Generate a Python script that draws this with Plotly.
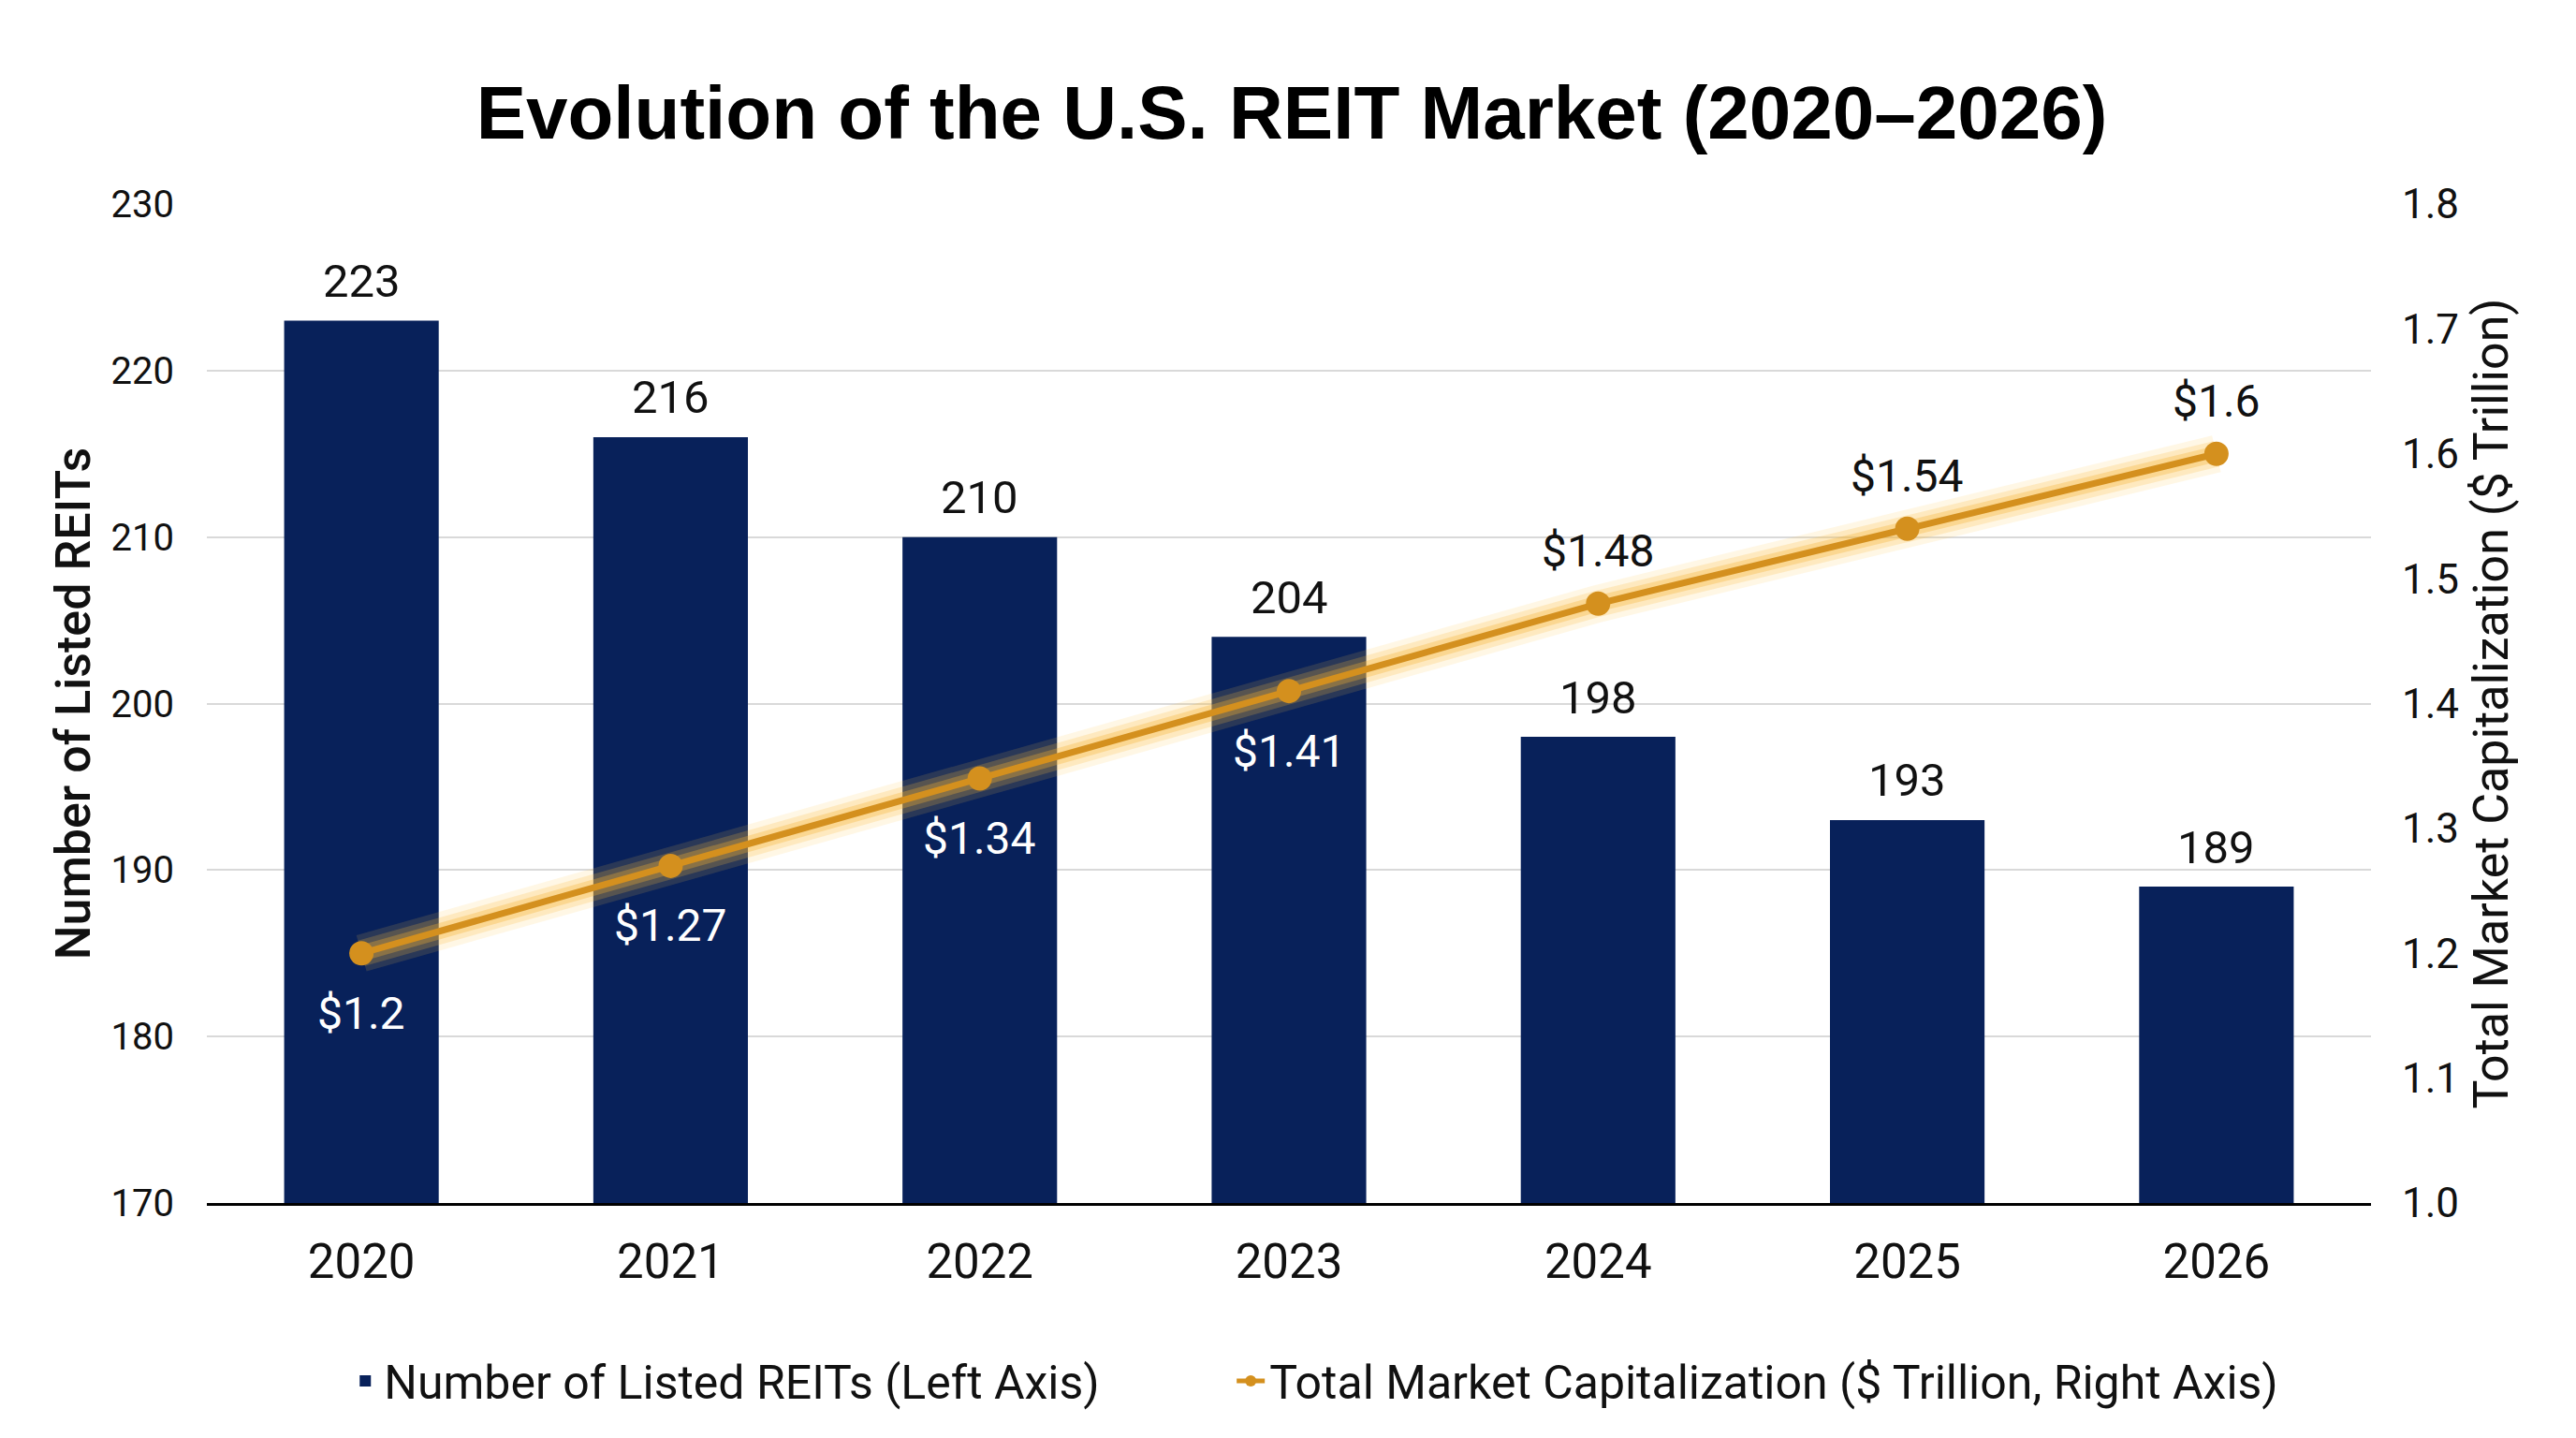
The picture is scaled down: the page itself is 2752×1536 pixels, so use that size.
import plotly.graph_objects as go

# Data
years = ["2020", "2021", "2022", "2023", "2024", "2025", "2026"]
reit_counts = [223, 216, 210, 204, 198, 193, 189]
market_cap = [1.2, 1.27, 1.34, 1.41, 1.48, 1.54, 1.6]
cap_labels = ["$1.2", "$1.27", "$1.34", "$1.41", "$1.48", "$1.54", "$1.6"]
# labels sitting on the bars go below the point in white, the rest above in black
cap_label_below = [True, True, True, True, False, False, False]

NAVY = "#08215a"
GOLD = "#d4901e"
FONT = "Roboto"

fig = go.Figure()

fig.add_trace(go.Bar(
  x=years, y=reit_counts,
  name="Number of Listed REITs (Left Axis)           ",
  marker=dict(color=NAVY, line=dict(width=0)),
  yaxis="y",
))

# soft glow under the line
for w, c in [(40, "rgba(252,195,70,0.14)"), (28, "rgba(250,188,60,0.22)"), (17, "rgba(245,178,50,0.32)")]:
  fig.add_trace(go.Scatter(
    x=years, y=market_cap, yaxis="y2", mode="lines",
    line=dict(color=c, width=w),
    showlegend=False, hoverinfo="skip",
  ))

fig.add_trace(go.Scatter(
  x=years, y=market_cap,
  name="Total Market Capitalization ($ Trillion, Right Axis)",
  mode="lines+markers", yaxis="y2",
  line=dict(color=GOLD, width=7),
  marker=dict(color=GOLD, size=26),
))

# annotations sit on the category axis, so they take the category index
annotations = []
for i, n in enumerate(reit_counts):
  annotations.append(dict(
    x=i, y=n, xref="x", yref="y", text=str(n), showarrow=False,
    yshift=42, font=dict(family=FONT, size=49, color="#111111"),
  ))
for i, (v, lab, below) in enumerate(zip(market_cap, cap_labels, cap_label_below)):
  annotations.append(dict(
    x=i, y=v, xref="x", yref="y2", text=lab, showarrow=False,
    yshift=-64 if below else 56,
    font=dict(family=FONT, size=48, color="white" if below else "#111111"),
  ))

# page body adds an 8px offset, so the figure is 8px smaller than the window
W, H = 2744, 1528

fig.update_layout(
  width=W, height=H,
  paper_bgcolor="white", plot_bgcolor="white",
  margin=dict(l=213, r=219, t=210, b=251),
  title=dict(
    text="<b>Evolution of the U.S. REIT Market (2020–2026)</b>",
    x=0.5, xanchor="center", y=1 - 112 / H, yanchor="middle",
    font=dict(family="Liberation Sans", size=80, color="black"),
  ),
  bargap=0.5,
  showlegend=True,
  legend=dict(
    orientation="h", x=0.512, xanchor="center", y=-0.178, yanchor="middle",
    font=dict(family=FONT, size=50, color="#111111"),
    itemsizing="constant", traceorder="normal",
  ),
  xaxis=dict(
    type="category", range=[-0.5, len(years) - 0.5],
    tickfont=dict(family=FONT, size=51, color="#111111"),
    showgrid=False, showline=True, linecolor="black", linewidth=3,
    ticks="", ticklabelstandoff=16,
  ),
  yaxis=dict(
    range=[170, 230], dtick=10,
    tickfont=dict(family=FONT, size=40, color="#111111"),
    showgrid=True, gridcolor="#d9d9d9", gridwidth=2,
    zeroline=False, showline=False, ticks="", ticklabelstandoff=34,
    title=dict(text="Number of Listed REITs", standoff=5,
               font=dict(family=FONT, size=52, color="#111111", weight=500)),
  ),
  yaxis2=dict(
    range=[1.0, 1.8], dtick=0.1, tickformat=".1f",
    overlaying="y", side="right",
    tickfont=dict(family=FONT, size=44, color="#111111"),
    showgrid=False, zeroline=False, showline=False, ticks="", ticklabelstandoff=32,
    title=dict(text="Total Market Capitalization ($ Trillion)", standoff=16,
               font=dict(family=FONT, size=52, color="#111111")),
  ),
  annotations=annotations,
)

fig.write_html("out.html")
